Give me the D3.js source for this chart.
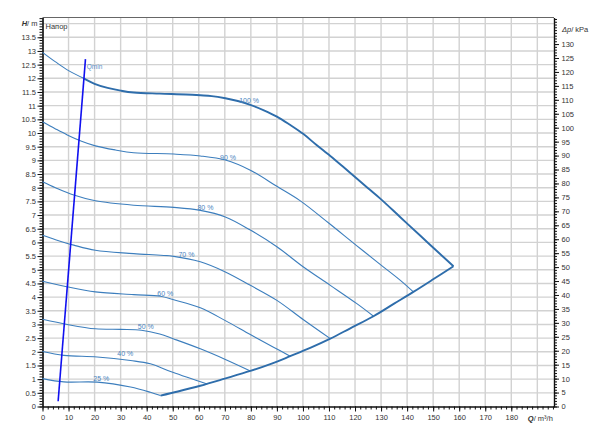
<!DOCTYPE html>
<html><head><meta charset="utf-8">
<script src="https://cdn.jsdelivr.net/npm/d3@7"></script>
<style>body{margin:0;background:#fff}svg{display:block;font-family:"Liberation Sans",Arial,sans-serif}</style>
</head><body><div id="chart"></div>
<script>
// ---- data (Q in m³/h, H in m) ----
const curve100 = [[0,12.95],[5,12.6],[10,12.28],[15.8,12.0],[20,11.8],[25,11.65],[30,11.55],[35,11.48],[45,11.44],[55,11.41],[60.6,11.38],[65,11.35],[70.2,11.27],[75,11.17],[79.8,11.03],[85,10.83],[90,10.6],[95,10.3],[100.2,9.96],[105,9.58],[110.5,9.16],[115,8.8],[120,8.39],[125,7.98],[129.7,7.6],[137.3,6.93],[145,6.25],[151,5.72],[157.8,5.13]];
const curve90 = [[0,10.41],[5,10.15],[9.5,9.93],[15,9.7],[20.3,9.53],[28,9.38],[35,9.28],[50.4,9.23],[60.6,9.16],[70.2,9.01],[79.8,8.64],[90,8.05],[99,7.52],[110,6.7],[120,5.93],[130,5.17],[137.3,4.62],[142.4,4.19]];
const curve80 = [[0,8.22],[5,8.0],[12,7.73],[20.3,7.52],[35,7.36],[50.4,7.28],[60.6,7.17],[70.2,6.93],[79.8,6.45],[90,5.84],[100.2,5.1],[110.5,4.43],[120.7,3.76],[127.1,3.3]];
const curve70 = [[0,6.26],[5,6.1],[12,5.9],[20.3,5.71],[35,5.59],[50.4,5.49],[60.6,5.29],[70.2,4.92],[79.8,4.43],[90,3.88],[100.2,3.17],[110.5,2.48]];
const curve60 = [[0,4.58],[9.3,4.38],[20.3,4.19],[35,4.09],[45.3,4.03],[50.4,3.9],[60.6,3.61],[70.2,3.14],[79.8,2.63],[88.7,2.17],[95.1,1.84]];
const curve50 = [[0,3.19],[9.5,3.0],[20.3,2.84],[30,2.82],[38,2.79],[45,2.65],[50.4,2.47],[60.6,2.11],[70,1.73],[79.8,1.3]];
const curve40 = [[0,2.01],[8.2,1.87],[21,1.81],[33.8,1.68],[41.4,1.56],[50,1.25],[63.2,0.82]];
const curve25 = [[0,1.02],[8.2,0.9],[21,0.89],[33.8,0.71],[41.4,0.52],[45.3,0.4]];
const envelope = [[45.3,0.4],[52,0.55],[60.6,0.76],[70,1.02],[79.8,1.3],[88,1.57],[95.1,1.84],[103,2.15],[110.5,2.48],[118,2.85],[127.1,3.3],[135,3.76],[142.4,4.19],[150,4.65],[157.8,5.13]];
const qminLine = [[6.0,0.19],[16.5,12.7]];
const qminFlow = 15.8;
const speedLabels = ["100 %","90 %","80 %","70 %","60 %","50 %","40 %","25 %"];
const labelPos = [[75.5,11.15],[68.2,9.07],[59.5,7.25],[52.2,5.54],[44.1,4.11],[36.6,2.9],[28.7,1.92],[19.5,0.99]];
const xTicks = [0,10,20,30,40,50,60,70,80,90,100,110,120,130,140,150,160,170,180];
const yTicks = [0,0.5,1,1.5,2,2.5,3,3.5,4,4.5,5,5.5,6,6.5,7,7.5,8,8.5,9,9.5,10,10.5,11,11.5,12,12.5,13,13.5];
const pTicks = [0,5,10,15,20,25,30,35,40,45,50,55,60,65,70,75,80,85,90,95,100,105,110,115,120,125,130];

const W=600,H=442;
const L=42.5,R=554,T=17.5,B=406.5;
const xMax=196.4, yMax=(B-T)/27.35;
const x=d3.scaleLinear().domain([0,xMax]).range([L,R]);
const y=d3.scaleLinear().domain([0,yMax]).range([B,T]);
const yp=d3.scaleLinear().domain([0,yMax*9.81]).range([B,T]);

const svg=d3.select("#chart").append("svg").attr("width",W).attr("height",H);
svg.append("rect").attr("width",W).attr("height",H).attr("fill","#fff");

// grid
const g=svg.append("g");
g.selectAll(".vg").data(d3.range(10,xMax,10)).join("line")
 .attr("x1",d=>x(d)).attr("x2",d=>x(d)).attr("y1",T).attr("y2",B)
 .attr("stroke","#d2d2d2").attr("stroke-width",1.4);
g.selectAll(".hg").data(d3.range(0.5,yMax,0.5)).join("line")
 .attr("x1",L).attr("x2",R).attr("y1",d=>y(d)).attr("y2",d=>y(d))
 .attr("stroke","#d2d2d2").attr("stroke-width",1.4);
svg.append("line").attr("x1",L).attr("x2",R).attr("y1",T).attr("y2",T).attr("stroke","#666").attr("stroke-width",1.2);

// axes
function styleAxis(sel){sel.selectAll("path").attr("stroke","#111").attr("stroke-width",1.2);sel.selectAll("line").attr("stroke","#111");sel.selectAll("text").attr("fill","#333").style("font-size","7.5px");}
// minor
svg.append("g").attr("transform",`translate(${L},0)`).call(d3.axisLeft(y).tickValues(d3.range(0,yMax,0.1)).tickSize(3).tickFormat("").tickSizeOuter(0)).call(styleAxis);
svg.append("g").attr("transform",`translate(0,${B})`).call(d3.axisBottom(x).tickValues(d3.range(0,xMax,2)).tickSize(3).tickFormat("").tickSizeOuter(0)).call(styleAxis);
svg.append("g").attr("transform",`translate(${R},0)`).call(d3.axisRight(yp).tickValues(d3.range(0,yMax*9.81,1)).tickSize(3).tickFormat("").tickSizeOuter(0)).call(styleAxis);
// major
svg.append("g").attr("transform",`translate(${L},0)`).call(d3.axisLeft(y).tickValues(yTicks).tickSize(5).tickPadding(1.5).tickFormat(d=>String(d)).tickSizeOuter(0)).call(styleAxis);
svg.append("g").attr("transform",`translate(0,${B})`).call(d3.axisBottom(x).tickValues(xTicks).tickSize(5).tickPadding(3).tickFormat(d=>String(d)).tickSizeOuter(0)).call(styleAxis);
svg.append("g").attr("transform",`translate(${R},0)`).call(d3.axisRight(yp).tickValues(pTicks).tickSize(5).tickPadding(2.5).tickFormat(d=>String(d)).tickSizeOuter(0)).call(styleAxis);

// axis titles
const t1=svg.append("text").attr("x",L-5).attr("y",y(14)).attr("text-anchor","end").attr("dominant-baseline","middle").style("font-size","7.5px").attr("fill","#333");
t1.append("tspan").text("H").style("font-style","italic").style("font-weight","bold");
t1.append("tspan").text("/ m");
const t2=svg.append("text").attr("x",R+8).attr("y",yp(135)).attr("dominant-baseline","middle").style("font-size","7.5px").attr("fill","#333");
t2.append("tspan").text("Δp").style("font-style","italic");
t2.append("tspan").text("/ kPa");
const t3=svg.append("text").attr("x",x(190)+3).attr("y",B+12).attr("text-anchor","middle").attr("dominant-baseline","middle").style("font-size","7.5px").attr("fill","#333");
t3.append("tspan").text("Q").style("font-style","italic").style("font-weight","bold");
t3.append("tspan").text("/ m³/h");
svg.append("text").attr("x",L+3).attr("y",T+10).attr("dominant-baseline","middle").style("font-size","7.5px").attr("fill","#333").text("Напор");

// curves
const line=d3.line().x(d=>x(d[0])).y(d=>y(d[1])).curve(d3.curveCatmullRom.alpha(0.5));
const thin=[curve90,curve80,curve70,curve60,curve50,curve40,curve25];
svg.append("g").selectAll("path").data(thin).join("path").attr("d",line)
 .attr("fill","none").attr("stroke","#3c7ebd").attr("stroke-width",1.1);
// 100 % curve: thin left of Qmin, thick from Qmin onward
const c100a=curve100.filter(d=>d[0]<=qminFlow), c100b=curve100.filter(d=>d[0]>=qminFlow);
svg.append("path").datum(c100a).attr("d",line).attr("fill","none").attr("stroke","#3c7ebd").attr("stroke-width",1.1);
svg.append("path").datum(c100b).attr("d",line).attr("fill","none").attr("stroke","#2e6dab").attr("stroke-width",1.9);
svg.append("path").datum(envelope).attr("d",line).attr("fill","none").attr("stroke","#2e6dab").attr("stroke-width",1.9);
svg.append("path").datum(qminLine).attr("d",d3.line().x(d=>x(d[0])).y(d=>y(d[1]))).attr("fill","none").attr("stroke","#1010f0").attr("stroke-width",1.6);

// labels
svg.append("g").selectAll("text").data(speedLabels).join("text")
 .attr("x",(d,i)=>x(labelPos[i][0])).attr("y",(d,i)=>y(labelPos[i][1]))
 .attr("dominant-baseline","middle").style("font-size","7px").attr("fill","#4a84c0").text(d=>d);
svg.append("text").attr("x",x(17.0)).attr("y",y(12.42)).attr("dominant-baseline","middle").style("font-size","6.5px").attr("fill","#5a90c8").text("Qmin");
</script></body></html>
